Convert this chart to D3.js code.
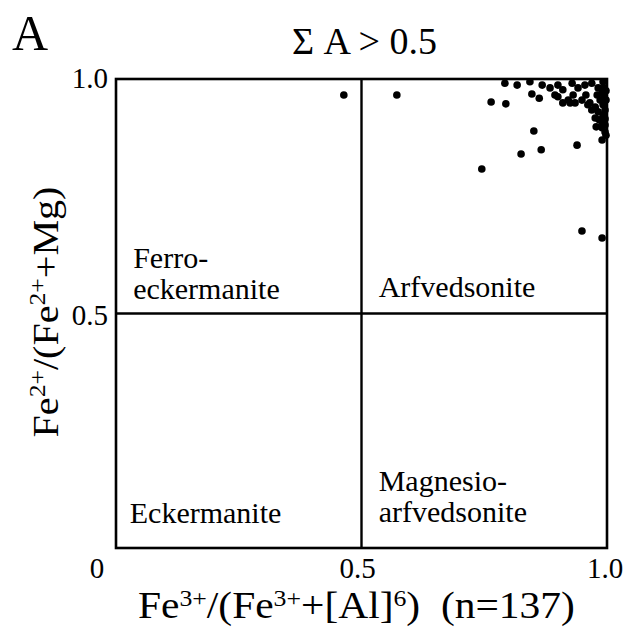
<!DOCTYPE html>
<html><head><meta charset="utf-8">
<script src="https://cdn.jsdelivr.net/npm/d3@7"></script>
<style>body{margin:0;background:#fff}svg{display:block}text{font-family:"Liberation Serif","Times New Roman",serif;fill:#000}</style>
</head><body>
<script>
// Fe3+/(Fe3+ + [Al]6) values
const xVals = [0.464,0.572,0.764,0.794,0.745,0.851,0.825,0.866,0.939,0.949,0.990,
 0.792,0.817,0.843,0.868,0.884,0.900,0.910,0.929,0.941,0.955,0.969,0.982,0.992,
 0.847,0.862,0.894,0.900,0.921,0.931,0.935,0.949,0.910,0.925,0.961,0.976,0.965,0.990,0.992,
 0.982,0.992,0.976,0.990,0.978,0.990,0.990,0.994,0.986,0.980,0.994,0.957,0.969,0.996,0.996,
 0.984,0.996,0.996,0.998,0.998,0.998];
// Fe2+/(Fe2+ + Mg) values
const yVals = [0.966,0.966,0.951,0.947,0.808,0.889,0.840,0.849,0.859,0.676,0.661,
 0.991,0.987,0.994,0.987,0.981,0.987,0.977,0.991,0.981,0.987,0.991,0.981,0.994,
 0.968,0.959,0.966,0.962,0.955,0.966,0.949,0.955,0.949,0.949,0.945,0.940,0.949,0.970,0.945,
 0.930,0.923,0.917,0.908,0.898,0.896,0.870,0.962,0.955,0.966,0.981,0.966,0.934,0.934,0.902,
 0.913,0.887,0.915,0.955,0.975,0.880];
const xTicks = [0.5, 1.0];
const yTicks = [0.5, 1.0];
const fieldNames = [["Ferro-","eckermanite"],["Arfvedsonite"],["Eckermanite"],["Magnesio-","arfvedsonite"]];

const W=626,H=634;
const svg=d3.select("body").append("svg").attr("width",W).attr("height",H);
const x=d3.scaleLinear().domain([0,1]).range([116,607]);
const y=d3.scaleLinear().domain([0,1]).range([548,79]);

// frame
svg.append("rect").attr("x",x(0)).attr("y",y(1)).attr("width",x(1)-x(0)).attr("height",y(0)-y(1))
  .attr("fill","none").attr("stroke","#000").attr("stroke-width",2.6);
svg.append("line").attr("x1",x(0.5)).attr("x2",x(0.5)).attr("y1",y(0)).attr("y2",y(1)).attr("stroke","#000").attr("stroke-width",2.4);
svg.append("line").attr("x1",x(0)).attr("x2",x(1)).attr("y1",y(0.5)).attr("y2",y(0.5)).attr("stroke","#000").attr("stroke-width",2.4);

// ticks
const tf=d3.format(".1f");
svg.selectAll(".xt").data(xTicks).join("text").attr("x",d=>x(d)-(d===1?2:4)).attr("y",578)
  .attr("text-anchor","middle").attr("font-size",29).text(tf);
svg.selectAll(".yt").data(yTicks).join("text").attr("x",108).attr("y",d=>y(d)+(d===1?9:11))
  .attr("text-anchor","end").attr("font-size",29).text(tf);
svg.append("text").attr("x",97).attr("y",578).attr("text-anchor","middle").attr("font-size",29).text("0");

// field labels
const fpos=[[0.035,0.56],[0.535,0.56],[0.028,0.07],[0.535,0.07]];
const foff=[-17,12,8,-24];
fieldNames.forEach((lines,i)=>{
  const t=svg.append("text").attr("x",x(fpos[i][0])).attr("y",y(fpos[i][1])+foff[i]).attr("font-size",30);
  lines.forEach((l,j)=>t.append("tspan").attr("x",x(fpos[i][0])).attr("dy",j?31:0).text(l));
});

// points
svg.selectAll("circle").data(xVals.map((v,i)=>[v,yVals[i]])).join("circle")
  .attr("cx",d=>x(d[0])).attr("cy",d=>y(d[1])).attr("r",3.8).attr("fill","#000");

// horizontally fit a text (anchored at x0) to a target width
function fitTo(sel,x0,target){
  const w=sel.node().getBBox().width;
  const s=target/w;
  sel.attr("transform",`translate(${x0},0) scale(${s.toFixed(4)},1) translate(${-x0},0)`);
}

// titles
svg.append("text").attr("x",12).attr("y",50).attr("font-size",50).text("A");
const tt=svg.append("text").attr("x",292).attr("y",54).attr("font-size",38).style("white-space","pre").text("\u03A3 A > 0.5");
fitTo(tt,292,145);

// x label
const xl=svg.append("text").attr("x",138).attr("y",618).attr("font-size",37).style("white-space","pre");
[["Fe",0],["3+",1],["/(Fe",0],["3+",1],["+[Al]",0],["6",1],[")  (n=137)",0]].forEach(([s,sup])=>{
  xl.append("tspan").attr("font-size",sup?23:37).attr("baseline-shift",sup?"12":null).text(s);
});
fitTo(xl,138,437);
// y label
const yg=svg.append("g").attr("transform","translate(58,312) rotate(-90)");
const yl=yg.append("text").attr("x",0).attr("y",0).attr("text-anchor","middle").attr("font-size",36);
[["Fe",0],["2+",1],["/(Fe",0],["2+",1],["+Mg)",0]].forEach(([s,sup])=>{
  yl.append("tspan").attr("font-size",sup?23:36).attr("baseline-shift",sup?"13":null).text(s);
});
fitTo(yl,0,251);
</script>
</body></html>
